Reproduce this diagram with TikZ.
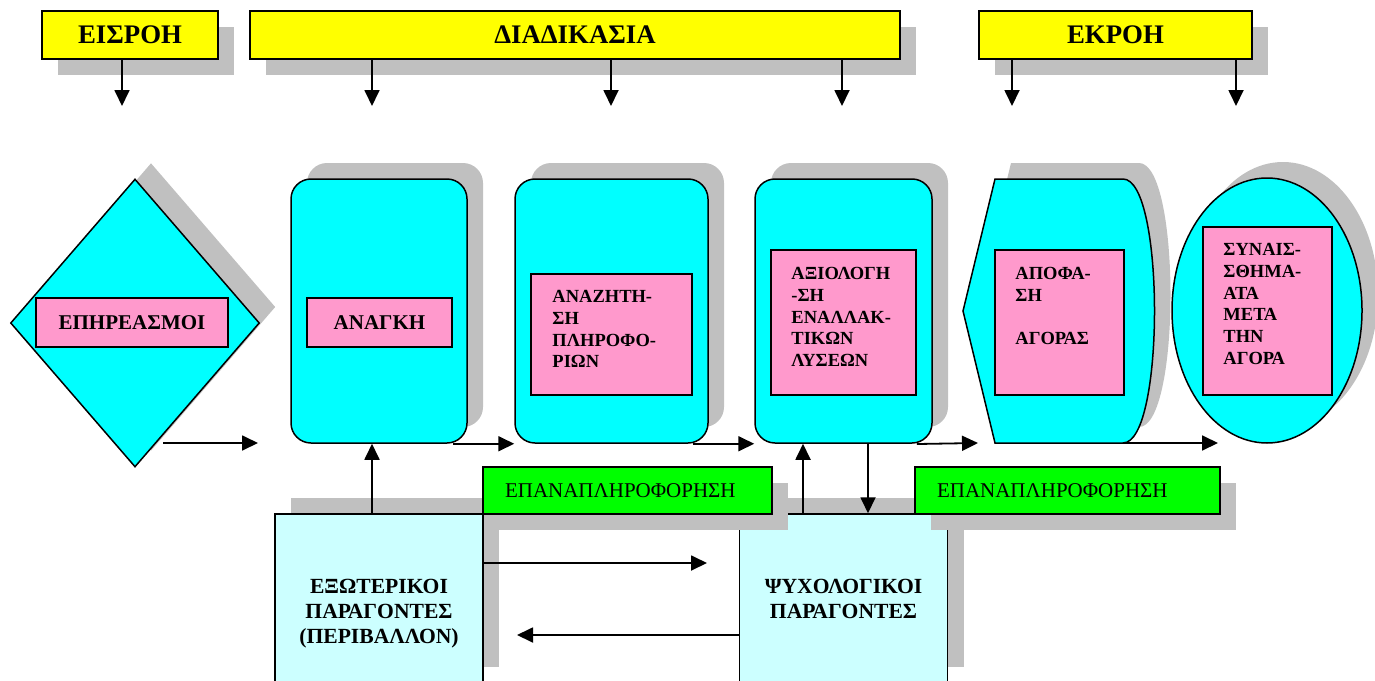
\documentclass[tikz,border=0pt]{standalone}
\usepackage{fontspec}
\setmainfont{Liberation Serif}
\usetikzlibrary{arrows.meta,shapes.geometric,shadows}
\definecolor{hdryellow}{RGB}{255,255,0}
\definecolor{boxcyan}{RGB}{0,255,255}
\definecolor{lblpink}{RGB}{255,153,204}
\definecolor{fbgreen}{RGB}{0,255,0}
\definecolor{factcyan}{RGB}{204,255,255}
\definecolor{shgray}{RGB}{192,192,192}
\begin{document}
\begin{tikzpicture}[x=1pt, y=-1pt,
  shdown/.style={drop shadow={shadow xshift=16pt, shadow yshift=-16pt, fill=shgray, opacity=1}},
  shup/.style={drop shadow={shadow xshift=16pt, shadow yshift=16pt, fill=shgray, opacity=1}},
  hdr/.style={draw, line width=1.5pt, fill=hdryellow, shdown, minimum height=48pt, inner sep=0pt, font=\fontsize{26.8}{30}\selectfont\bfseries},
  stage/.style={draw, line width=1.5pt, fill=boxcyan, shup, rounded corners=20pt, minimum height=264pt, inner sep=0pt},
  lbl/.style={draw, line width=1.5pt, fill=lblpink, inner sep=0pt, font=\fontsize{21}{25}\selectfont\bfseries},
  lbltxt/.style={anchor=north west, inner sep=0pt, align=left, font=\fontsize{18.5}{21.7}\selectfont\bfseries},
  factor/.style={draw, line width=1.5pt, fill=factcyan, shup, minimum width=208pt, minimum height=169pt, inner sep=0pt, align=center, font=\fontsize{21.6}{25}\selectfont\bfseries},
  fb/.style={draw, line width=1.5pt, fill=fbgreen, shdown, minimum height=47pt, inner xsep=22pt, inner ysep=0pt, align=left, font=\fontsize{21}{25}\selectfont},
  arr/.style={line width=1.8pt, -{Triangle[length=16pt,width=15pt]}}]
  \useasboundingbox (0,0) rectangle (1375,680);
  \clip (0,0) rectangle (1375,680);
  % headers
  \node[hdr, minimum width=176pt] (eisroi) at (130,35) {ΕΙΣΡΟΗ};
  \node[hdr, minimum width=650pt] (diadikasia) at (575,35) {ΔΙΑΔΙΚΑΣΙΑ};
  \node[hdr, minimum width=273pt] (ekroi) at (1115.5,35) {ΕΚΡΟΗ};
  \coordinate (ha1) at (122,106); \coordinate (ha2) at (372,106); \coordinate (ha3) at (611,106);
  \coordinate (ha4) at (842,106); \coordinate (ha5) at (1012,106); \coordinate (ha6) at (1236,106);
  \draw[arr] (eisroi.south -| ha1) -- (ha1);
  \draw[arr] (diadikasia.south -| ha2) -- (ha2);
  \draw[arr] (diadikasia.south -| ha3) -- (ha3);
  \draw[arr] (diadikasia.south -| ha4) -- (ha4);
  \draw[arr] (ekroi.south -| ha5) -- (ha5);
  \draw[arr] (ekroi.south -| ha6) -- (ha6);
  % stages
  \node[diamond, draw, line width=1.5pt, fill=boxcyan, shup, minimum width=249pt, minimum height=288pt, inner sep=0pt] (epir) at (135,323) {};
  \node[lbl, minimum width=192pt, minimum height=49pt] (epirlbl) at (132,322.5) {ΕΠΗΡΕΑΣΜΟΙ};
  \node[stage, minimum width=176pt] (anagki) at (379,311) {};
  \node[lbl, minimum width=145pt, minimum height=49pt] (anagkilbl) at (379.5,322.5) {ΑΝΑΓΚΗ};
  \node[stage, minimum width=193pt] (anazitisi) at (611.5,311) {};
  \node[lbl, minimum width=161pt, minimum height=121pt] (anazitisilbl) at (611.5,334.5) {};
  \node[lbltxt] (anazitisitxt) at ([shift={(22,17)}]anazitisilbl.north west) {ΑΝΑΖΗΤΗ-\\ΣΗ\\ΠΛΗΡΟΦΟ-\\ΡΙΩΝ};
  \node[stage, minimum width=177pt] (axiologisi) at (843.5,311) {};
  \node[lbl, minimum width=145pt, minimum height=145pt] (axiologisilbl) at (843.5,322.5) {};
  \node[lbltxt] (axiologisitxt) at ([shift={(21,18)}]axiologisilbl.north west) {ΑΞΙΟΛΟΓΗ\\-ΣΗ\\ΕΝΑΛΛΑΚ-\\ΤΙΚΩΝ\\ΛΥΣΕΩΝ};
  \fill[shgray, xshift=16pt, yshift=16pt] (995,179) -- (1123,179) .. controls (1165,179) and (1165,443) .. (1123,443) -- (995,443) -- (963,311) -- cycle;
  \draw[line width=1.5pt, fill=boxcyan] (995,179) -- (1123,179) .. controls (1165,179) and (1165,443) .. (1123,443) -- (995,443) -- (963,311) -- cycle;
  \coordinate (apofse) at (1123,443);
  \node[lbl, minimum width=129pt, minimum height=145pt] (apofasilbl) at (1059.5,322.5) {};
  \node[lbltxt] (apofasitxt) at ([shift={(21,18)}]apofasilbl.north west) {ΑΠΟΦΑ-\\ΣΗ\\[21.7pt]ΑΓΟΡΑΣ};
  \node[ellipse, draw, line width=1.5pt, fill=boxcyan, shup, minimum width=190pt, minimum height=265pt, inner sep=0pt] (synais) at (1267,310.5) {};
  \node[lbl, minimum width=129pt, minimum height=168pt] (synaislbl) at (1267.5,311) {};
  \node[lbltxt] (synaistxt) at ([shift={(21,17)}]synaislbl.north west) {ΣΥΝΑΙΣ-\\ΣΘΗΜΑ-\\ΑΤΑ\\ΜΕΤΑ\\ΤΗΝ\\ΑΓΟΡΑ};
  % flow
  \coordinate (da) at (163,443); \coordinate (db) at (258,443);
  \coordinate (dc) at (978,443); \coordinate (dd) at (1218,443);
  \draw[arr] (da) -- (db);
  \draw[arr, shorten <=-15pt] (anagki.south east) -- (anazitisi.south west);
  \draw[arr, shorten <=-16pt] (anazitisi.south east) -- (axiologisi.south west);
  \draw[arr, shorten <=-16pt] (axiologisi.south east) -- (dc);
  \draw[arr] (apofse) -- (dd);
  % factors and feedback
  \node[factor] (exo) at (379,598.5) {};
  \node[factor] (psy) at (843.5,598.5) {ΨΥΧΟΛΟΓΙΚΟΙ\\ΠΑΡΑΓΟΝΤΕΣ};
  \node[fb, text width=245pt] (fb1) at (627.5,490.5) {ΕΠΑΝΑΠΛΗΡΟΦΟΡΗΣΗ};
  \node[fb, text width=261pt] (fb2) at (1067.5,490.5) {ΕΠΑΝΑΠΛΗΡΟΦΟΡΗΣΗ};
  \node[align=center, inner sep=0pt, font=\fontsize{21.6}{25}\selectfont\bfseries] (exotxt) at (379,614) {ΕΞΩΤΕΡΙΚΟΙ\\ΠΑΡΑΓΟΝΤΕΣ\\(ΠΕΡΙΒΑΛΛΟΝ)};
  \coordinate (up3) at (803,443); \coordinate (dn3) at (868,443);
  \coordinate (r1) at (707,563); \coordinate (l1) at (517,635);
  \draw[arr] (exo.north -| ha2) -- (anagki.south -| ha2);
  \draw[arr] (psy.north -| up3) -- (axiologisi.south -| up3);
  \draw[arr] (axiologisi.south -| dn3) -- (psy.north -| dn3);
  \draw[arr] (exo.east |- r1) -- (r1);
  \draw[arr] (psy.west |- l1) -- (l1);
\end{tikzpicture}
\end{document}
